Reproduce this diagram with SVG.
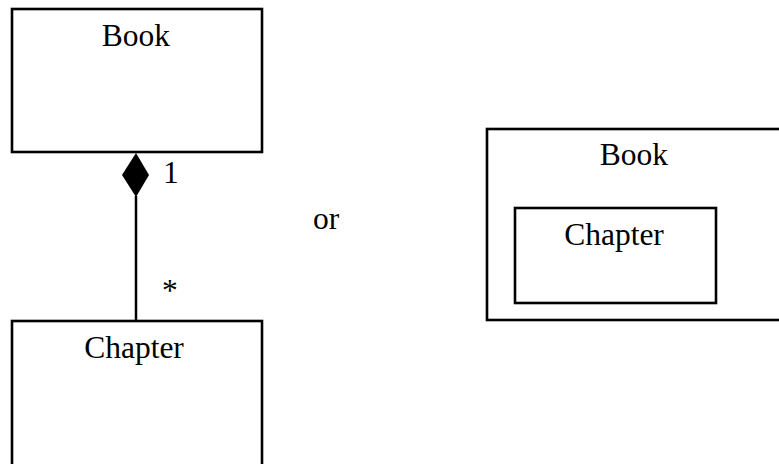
<svg xmlns="http://www.w3.org/2000/svg" width="779" height="464" viewBox="0 0 779 464">
<style>
.box{fill:#fff;stroke:#000;stroke-width:2.6}
.t{font-family:"Liberation Serif","Times New Roman",serif;font-size:31.5px;fill:#000}
.c{text-anchor:middle}
.ln{stroke:#000;stroke-width:2.5;fill:none}
</style>
<rect width="779" height="464" fill="#fff"/>
<g id="book">
<rect class="box" x="12" y="9" width="250" height="143"/>
<text class="t c" x="136" y="46">Book</text>
</g>
<g id="chapter">
<rect class="box" x="12" y="321" width="250" height="160"/>
<text class="t c" x="134" y="358">Chapter</text>
</g>
<g id="connectors">
<line class="ln" x1="136" y1="196" x2="136" y2="321"/>
<polygon points="136,153 149,175 136,197 122,175" fill="#000"/>
<text class="t" x="163" y="183">1</text>
<text class="t" x="162" y="301">*</text>
</g>
<g id="or">
<text class="t" x="313" y="229">or</text>
</g>
<g id="book2">
<rect class="box" x="487" y="129" width="310" height="191"/>
<text class="t c" x="634" y="165">Book</text>
</g>
<g id="chapter2">
<rect class="box" x="515" y="208" width="201" height="95"/>
<text class="t c" x="614" y="245">Chapter</text>
</g>
</svg>
